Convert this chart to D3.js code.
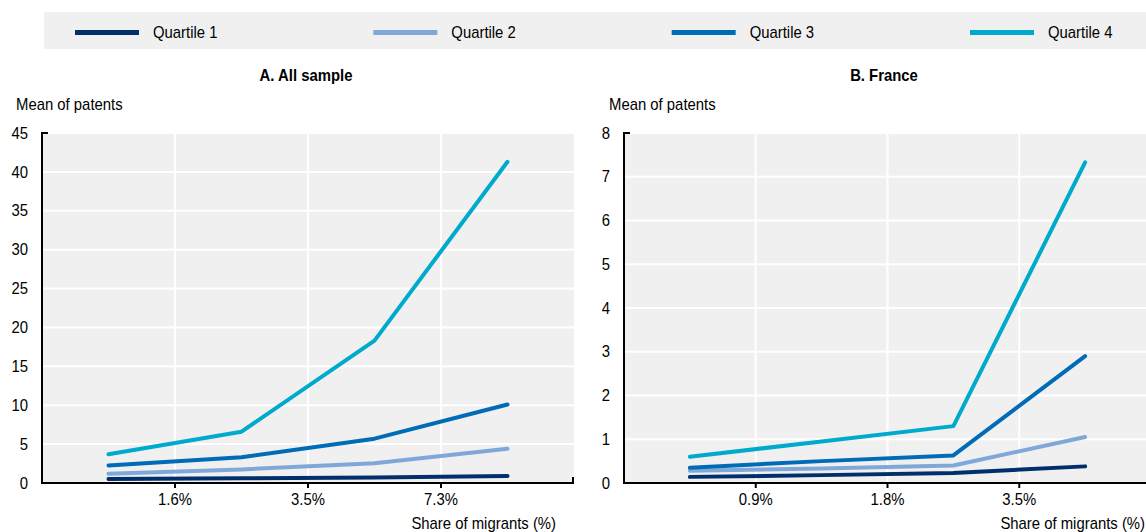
<!DOCTYPE html>
<html>
<head>
<meta charset="utf-8">
<script src="https://cdn.jsdelivr.net/npm/d3@7"></script>
<style>
  html, body { margin: 0; padding: 0; background: #fff; }
  svg { display: block; font-family: "Liberation Sans", Arial, sans-serif; }
</style>
</head>
<body>
<svg id="chart" width="1146" height="532"></svg>
<script>
// Quartiles (series)
const quartiles = ["Quartile 1", "Quartile 2", "Quartile 3", "Quartile 4"];
const quartileColors = ["#002f6c", "#7fa8d9", "#006bb6", "#00aacc"];

// Four groups of the share of migrants (x categories)
const migrantGroups = ["Group 1", "Group 2", "Group 3", "Group 4"];

// Boundaries between the groups, shown as x tick labels
const allSampleThresholds = ["1.6%", "3.5%", "7.3%"];
const franceThresholds = ["0.9%", "1.8%", "3.5%"];

// Mean of patents, panel A (all sample)
const allSampleQ1 = [0.5, 0.6, 0.7, 0.9];
const allSampleQ2 = [1.2, 1.75, 2.55, 4.4];
const allSampleQ3 = [2.25, 3.3, 5.7, 10.1];
const allSampleQ4 = [3.7, 6.6, 18.3, 41.3];

// Mean of patents, panel B (France)
const franceQ1 = [0.14, 0.18, 0.23, 0.38];
const franceQ2 = [0.28, 0.33, 0.4, 1.05];
const franceQ3 = [0.35, 0.5, 0.63, 2.9];
const franceQ4 = [0.6, 0.95, 1.3, 7.33];

// Y-axis ticks
const allSampleTicks = [0, 5, 10, 15, 20, 25, 30, 35, 40, 45];
const franceTicks = [0, 1, 2, 3, 4, 5, 6, 7, 8];

const svg = d3.select("#chart");
const FONT = 16;
const NARROW = 0.93; // slightly condensed lettering

// Text helper: condensed horizontally around its anchor point
function label(parent, x, y, str, anchor = "start", bold = false) {
  return parent.append("text")
    .attr("transform", `translate(${x},${y}) scale(${NARROW},1)`)
    .attr("text-anchor", anchor)
    .attr("dominant-baseline", "central")
    .attr("font-size", FONT)
    .attr("font-weight", bold ? "bold" : "normal")
    .attr("fill", "#000")
    .text(str);
}

// ---- Legend band ----
const legend = svg.append("g");
legend.append("rect")
  .attr("x", 44).attr("y", 12).attr("width", 1102).attr("height", 37)
  .attr("fill", "#f0f0f0");
const legendX = d3.scalePoint().domain(quartiles).range([75, 970]);
quartiles.forEach((q, i) => {
  const x0 = legendX(q);
  legend.append("line")
    .attr("x1", x0).attr("x2", x0 + 64)
    .attr("y1", 32.5).attr("y2", 32.5)
    .attr("stroke", quartileColors[i]).attr("stroke-width", 5);
  label(legend, x0 + 78, 32.5, q);
});

// ---- Panel drawing ----
function drawPanel(opts) {
  const { left, right, title, yMax, ticks, thresholds, series, titleX, yLabelX } = opts;
  const top = 133, bottom = 483;
  const g = svg.append("g");

  const x = d3.scaleBand().domain(migrantGroups).range([left, right]);
  const y = d3.scaleLinear().domain([0, yMax]).range([bottom, top]);

  // Plot background
  g.append("rect")
    .attr("x", left).attr("y", top)
    .attr("width", right - left).attr("height", bottom - top)
    .attr("fill", "#f0f0f0");

  // Horizontal gridlines
  g.selectAll(".hgrid").data(ticks.filter(t => t > 0)).enter().append("line")
    .attr("x1", left).attr("x2", right)
    .attr("y1", d => y(d)).attr("y2", d => y(d))
    .attr("stroke", "#fff").attr("stroke-width", 2);

  // Vertical gridlines on the group boundaries
  const bounds = migrantGroups.slice(1).map(d => x(d));
  g.selectAll(".vgrid").data(bounds).enter().append("line")
    .attr("x1", d => d).attr("x2", d => d)
    .attr("y1", top).attr("y2", bottom)
    .attr("stroke", "#fff").attr("stroke-width", 2);

  // Series lines
  const line = d3.line()
    .x((d, i) => x(migrantGroups[i]) + x.bandwidth() / 2)
    .y(d => y(d));
  series.forEach((vals, i) => {
    g.append("path")
      .attr("d", line(vals))
      .attr("fill", "none")
      .attr("stroke", quartileColors[i])
      .attr("stroke-width", 4)
      .attr("stroke-linecap", "round")
      .attr("stroke-linejoin", "round");
  });

  // Axes
  g.append("line")
    .attr("x1", left).attr("x2", left).attr("y1", top).attr("y2", bottom)
    .attr("stroke", "#000").attr("stroke-width", 2);
  g.append("line")
    .attr("x1", left - 1).attr("x2", left + 6).attr("y1", top).attr("y2", top)
    .attr("stroke", "#000").attr("stroke-width", 2);
  g.append("line")
    .attr("x1", left - 1).attr("x2", right).attr("y1", bottom).attr("y2", bottom)
    .attr("stroke", "#000").attr("stroke-width", 2);
  g.append("line")
    .attr("x1", right - 1).attr("x2", right - 1).attr("y1", bottom).attr("y2", bottom - 6)
    .attr("stroke", "#000").attr("stroke-width", 2);

  // X ticks and labels on group boundaries
  g.selectAll(".xtick").data(bounds).enter().append("line")
    .attr("x1", d => d).attr("x2", d => d)
    .attr("y1", bottom).attr("y2", bottom + 5)
    .attr("stroke", "#000").attr("stroke-width", 2);
  thresholds.forEach((t, i) => label(g, bounds[i], 499, t, "middle"));

  // Y labels
  ticks.forEach(t => label(g, left - 14, y(t), t, "end"));

  // Titles
  label(g, titleX, 75, title, "middle", true);
  label(g, yLabelX, 104, "Mean of patents");
  label(g, opts.xTitleEnd, 523, "Share of migrants (%)", "end");
}

drawPanel({
  left: 42, right: 574, title: "A. All sample", yMax: 45,
  ticks: allSampleTicks, thresholds: allSampleThresholds,
  series: [allSampleQ1, allSampleQ2, allSampleQ3, allSampleQ4],
  titleX: 306, yLabelX: 16, xTitleEnd: 556
});

drawPanel({
  left: 624, right: 1151, title: "B. France", yMax: 8,
  ticks: franceTicks, thresholds: franceThresholds,
  series: [franceQ1, franceQ2, franceQ3, franceQ4],
  titleX: 884, yLabelX: 609, xTitleEnd: 1145
});
</script>
</body>
</html>
